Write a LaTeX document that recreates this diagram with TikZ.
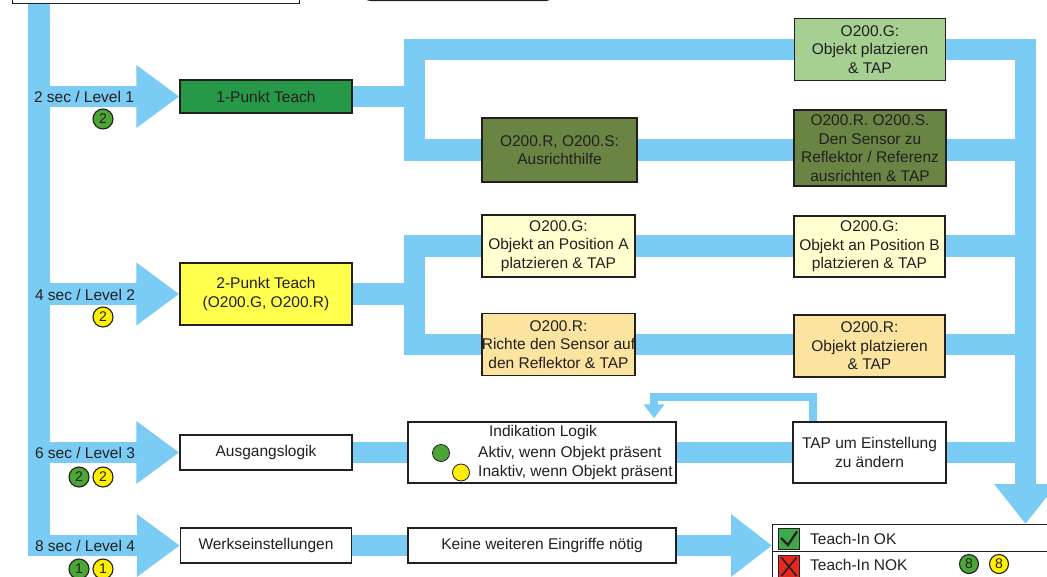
\documentclass[tikz,border=0pt]{standalone}
\usepackage{fontspec}
\setmainfont{Liberation Sans}
\usetikzlibrary{arrows.meta,backgrounds}
\definecolor{flow}{RGB}{122,204,245}
\definecolor{edge}{RGB}{35,31,32}
\definecolor{txt}{RGB}{35,31,32}
\definecolor{dkgreen}{RGB}{38,152,72}
\definecolor{ltgreen}{RGB}{166,207,146}
\definecolor{olive}{RGB}{106,132,68}
\definecolor{yel}{RGB}{255,255,77}
\definecolor{cream}{RGB}{255,255,208}
\definecolor{peach}{RGB}{250,228,160}
\definecolor{dotgreen}{RGB}{75,165,55}
\definecolor{dotyellow}{RGB}{255,240,0}
\definecolor{okgreen}{RGB}{60,170,70}
\definecolor{nokred}{RGB}{230,40,30}
\begin{document}
\begin{tikzpicture}[x=1pt,y=-1pt,
  flowline/.style={draw=flow,line width=21.5pt},
  flowhead/.style={-{Triangle[length=#1,width=60pt]}},
  box/.style={draw=edge,line width=1.4pt,inner sep=0pt,align=center,text=txt,font=\fontsize{15.5}{18.5}\selectfont},
  lbl/.style={text=txt,font=\fontsize{15.5}{18.5}\selectfont,inner sep=0pt},
  numdot/.style={circle,draw=edge,line width=1.1pt,minimum size=20pt,inner sep=0pt,text=txt,font=\fontsize{14}{14}\selectfont},
  legdot/.style={circle,draw=edge,line width=0.8pt,minimum size=17pt,inner sep=0pt}]
\useasboundingbox (0,0) rectangle (1047,576);

% cut-off boxes at the top
\node[box,fill=white,minimum width=287pt,minimum height=30pt,anchor=south west] (topA) at (12,4) {};
\node[box,fill=white,rounded corners=8pt,minimum width=191pt,minimum height=30pt,anchor=south west] (topB) at (362,1) {};

% level boxes
\node[box,fill=dkgreen,minimum width=172pt,minimum height=33pt] (p1) at (266,96.5) {1-Punkt Teach};
\node[box,fill=yel,minimum width=172pt,minimum height=62pt] (p2) at (266,294) {2-Punkt Teach\\(O200.G, O200.R)};
\node[box,fill=white,minimum width=172pt,minimum height=35pt] (aus) at (266,452.5) {Ausgangslogik};
\node[box,fill=white,minimum width=171pt,minimum height=35pt] (werk) at (266,545.5) {Werkseinstellungen};

% loop 1
\node[box,fill=ltgreen,minimum width=151pt,minimum height=62pt] (g1) at (870,49.5) {O200.G:\\Objekt platzieren\\\& TAP};
\node[box,fill=olive,minimum width=155pt,minimum height=64pt] (a1) at (559.5,150) {O200.R, O200.S:\\Ausrichthilfe};
\node[box,fill=olive,minimum width=152pt,minimum height=76pt] (r1) at (870,148) {O200.R. O200.S.\\Den Sensor zu\\Reflektor / Referenz\\ausrichten \& TAP};

% loop 2
\node[box,fill=cream,minimum width=153pt,minimum height=62pt] (gA) at (558.5,246) {O200.G:\\Objekt an Position A\\platzieren \& TAP};
\node[box,fill=cream,minimum width=151pt,minimum height=61pt] (gB) at (869.5,246.5) {O200.G:\\Objekt an Position B\\platzieren \& TAP};
\node[box,fill=peach,minimum width=153pt,minimum height=62pt] (rA) at (558.5,344.5) {O200.R:\\Richte den Sensor auf\\den Reflektor \& TAP};
\node[box,fill=peach,minimum width=151pt,minimum height=62pt] (rB) at (869.5,346) {O200.R:\\Objekt platzieren\\\& TAP};

% level 3 / 4
\node[box,fill=white,minimum width=268pt,minimum height=61pt] (ind) at (542,452.5) {};
\node[lbl] (indt) at (543,432) {Indikation Logik};
\node[lbl,anchor=west] (akt) at (478,453) {Aktiv, wenn Objekt präsent};
\node[lbl,anchor=west] (inakt) at (478,472.5) {Inaktiv, wenn Objekt präsent};
\node[legdot,fill=dotgreen] (ag) at (441,453) {};
\node[legdot,fill=dotyellow] (iy) at (461,472.5) {};
\node[box,fill=white,minimum width=153pt,minimum height=61pt] (tap) at (869.5,452.5) {TAP um Einstellung\\zu ändern};
\node[box,fill=white,minimum width=268pt,minimum height=35pt] (keine) at (542,545.5) {Keine weiteren Eingriffe nötig};

% status table
\node[box,fill=white,minimum width=300pt,minimum height=80pt,anchor=north west] (status) at (772,524) {};
\coordinate (div) at (0,551.5);
\draw[edge,line width=1.4pt] (status.west |- div) -- (status.east |- div);
\node[draw=edge,line width=1.2pt,fill=okgreen,minimum width=21pt,minimum height=21pt,inner sep=0pt,anchor=north west] (ok) at (778,528) {};
\draw[edge,line width=2.2pt] (781,538) -- (788,545) -- (797,531.5);
\node[draw=edge,line width=1.2pt,fill=nokred,minimum width=21pt,minimum height=26pt,inner sep=0pt,anchor=north west] (nok) at (778,554.5) {};
\draw[edge,line width=1.6pt] (781.5,557.5) -- (796.5,576) (796.5,557.5) -- (781.5,576);
\node[lbl,anchor=west] (okt) at (810,539) {Teach-In OK};
\node[lbl,anchor=west] (nokt) at (810,564.5) {Teach-In NOK};
\node[numdot,fill=dotgreen,minimum size=19pt] (s8g) at (969,564) {8};
\node[numdot,fill=dotyellow,minimum size=19pt] (s8y) at (999,564) {8};

% level labels
\node[lbl] (l1) at (84,96.5) {2 sec / Level 1};
\node[lbl] (l2) at (85,295) {4 sec / Level 2};
\node[lbl] (l3) at (85,453) {6 sec / Level 3};
\node[lbl] (l4) at (85,546) {8 sec / Level 4};
\node[numdot,fill=dotgreen] (d1) at (103,119) {2};
\node[numdot,fill=dotyellow] (d2) at (103,317) {2};
\node[numdot,fill=dotgreen] (d3g) at (79,477) {2};
\node[numdot,fill=dotyellow] (d3y) at (103,477) {2};
\node[numdot,fill=dotgreen] (d4g) at (79,569) {1};
\node[numdot,fill=dotyellow] (d4y) at (103,569) {1};

\begin{scope}[on background layer]
\fill[white] (0,0) rectangle (1047,576);
\coordinate (bar) at (39,0);
\coordinate (L) at (414.5,0);
\coordinate (R) at (1025.5,0);
% main bar and level arrows
\draw[flowline,flowhead=43pt] (bar) -- (bar |- werk.west) -- (werk.west);
\draw[flowline,flowhead=43pt] (bar |- p1.west) -- (p1.west);
\draw[flowline,flowhead=43pt] (bar |- p2.west) -- (p2.west);
\draw[flowline,flowhead=43pt] (bar |- aus.west) -- (aus.west);
% loop 1 and right collector
\draw[flowline] (p1.east) -- (p1.east -| L);
\draw[flowline,flowhead=40pt] (R |- a1.east) -- (L |- a1.east) -- (L |- g1.west) -- (R |- g1.west) -- (R |- status.north);
% loop 2
\draw[flowline] (p2.east) -- (p2.east -| L);
\draw[flowline] (R |- rA.east) -- (L |- rA.east) -- (L |- gA.west) -- (R |- gA.west);
% level 3
\draw[flowline] (aus.east) -- (ind.west);
\draw[flowline] (ind.east) -- (tap.west);
\draw[flowline] (tap.east) -- (tap.east -| R);
% level 4
\draw[flowline] (werk.east) -- (keine.west);
\draw[flowline,flowhead=41pt] (keine.east) -- (keine.east -| status.west);
% feedback
\draw[draw=flow,line width=8pt,-{Triangle[length=14pt,width=20pt]}] ([xshift=-56.5pt]tap.north) -- ++(0,-24) -| ([xshift=112pt,yshift=3pt]ind.north);
\end{scope}
\end{tikzpicture}
\end{document}
